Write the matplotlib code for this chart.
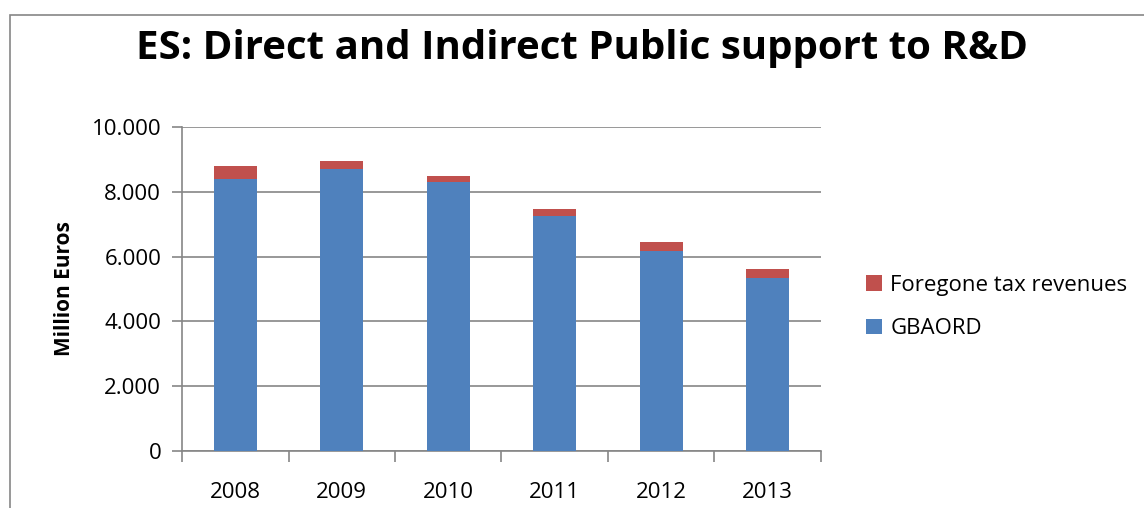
import numpy as np
import matplotlib as mpl
mpl.use('Agg')
import matplotlib.pyplot as plt
from matplotlib.patches import Rectangle
from matplotlib import ticker

years = ['2008', '2009', '2010', '2011', '2012', '2013']
gbaord = [8400, 8690, 8310, 7250, 6180, 5330]
foregone = [405, 260, 180, 230, 280, 280]

blue = '#4F81BD'
red = '#C0504D'
grey = '#868686'

plt.rcParams['font.family'] = ['Open Sans', 'DejaVu Sans']

fig = plt.figure(figsize=(11.44, 5.08), dpi=100)
W, H = 1144, 508
ax = fig.add_axes([182/W, 1-451/H, (821-182)/W, (451-127)/H])

x = np.arange(len(years))
ax.bar(x, gbaord, width=0.4, color=blue, zorder=3, label='GBAORD')
ax.bar(x, foregone, width=0.4, bottom=gbaord, color=red, zorder=3, label='Foregone tax revenues')

ax.set_xlim(-0.5, len(years) - 0.5)
ax.set_ylim(0, 10000)
ax.set_yticks(np.arange(0, 10001, 2000))
ax.yaxis.set_major_formatter(ticker.FuncFormatter(lambda v, p: '{:,.0f}'.format(v).replace(',', '.')))
ax.grid(axis='y', color=grey, linewidth=1.2, zorder=0)

ax.set_xticks(x)
ax.set_xticklabels(years)
ax.set_xticks(np.arange(-0.5, len(years), 1), minor=True)
ax.tick_params(axis='x', which='major', length=0, pad=22, labelsize=16)
ax.tick_params(axis='x', which='minor', length=8, color=grey, width=1.2)
ax.tick_params(axis='y', length=7, color=grey, width=1.2, labelsize=16, pad=8)

for s in ['top', 'right']:
    ax.spines[s].set_visible(False)
for s in ['left', 'bottom']:
    ax.spines[s].set_color(grey)
    ax.spines[s].set_linewidth(1.2)

ax.set_ylabel('Million Euros', fontsize=15, fontweight='bold', labelpad=12)

fig.text(582/W, 1-48/H, 'ES: Direct and Indirect Public support to R&D',
         ha='center', va='center', fontsize=29, fontweight='bold')

handles, labels = ax.get_legend_handles_labels()
fig.legend(handles[::-1], labels[::-1], loc='center left', bbox_to_anchor=(846/W, 1-307/H),
           frameon=False, fontsize=16, handlelength=0.7, handleheight=0.7,
           handletextpad=0.4, labelspacing=1.0)

# chart frame
fig.patches.append(Rectangle((10/W, -0.1), 1.2, 1-15/H+0.1, transform=fig.transFigure,
                             fill=False, edgecolor=grey, linewidth=1.2))

plt.savefig('out.png', dpi=100)
